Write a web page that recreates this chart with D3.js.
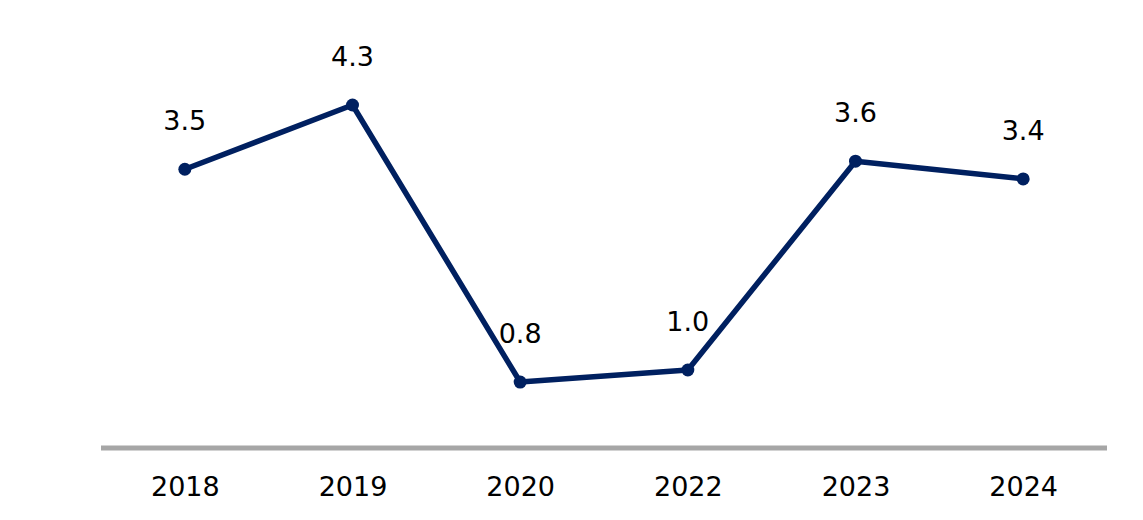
<!DOCTYPE html>
<html>
<head>
<meta charset="utf-8">
<script src="https://cdn.jsdelivr.net/npm/d3@7"></script>
<style>
  html, body { margin: 0; padding: 0; background: #fff; }
  svg { display: block; }
  text { font-family: "DejaVu Sans", Verdana, sans-serif; fill: #000; }
</style>
</head>
<body>
<svg id="chart" width="1143" height="520"></svg>
<script>
const categories = ["2018", "2019", "2020", "2022", "2023", "2024"];
const values = [3.5, 4.3, 0.85, 1.0, 3.6, 3.38];
const valueLabels = ["3.5", "4.3", "0.8", "1.0", "3.6", "3.4"];

const svg = d3.select("#chart");
const x = d3.scalePoint().domain(categories).range([101, 1107]).padding(0.5);
const y = d3.scaleLinear().domain([0, 5]).range([450.3, 48.8]);

const data = categories.map((c, i) => ({ c, v: values[i], label: valueLabels[i] }));

// x axis baseline
const xAxis = d3.axisBottom(x).tickSize(0).tickPadding(0);
const ax = svg.append("g").attr("transform", "translate(0,448)").call(xAxis);
ax.select(".domain").attr("stroke", "#a6a6a6").attr("stroke-width", 5)
  .attr("d", "M101,0H1107");
ax.selectAll(".tick text")
  .attr("y", 48).attr("dy", null)
  .style("font-family", '"DejaVu Sans", Verdana, sans-serif')
  .style("font-size", "27px").attr("fill", "#000");

// line
const line = d3.line().x(d => x(d.c)).y(d => y(d.v));
svg.append("path").datum(data)
  .attr("fill", "none").attr("stroke", "#002060")
  .attr("stroke-width", 5.5).attr("stroke-linejoin", "round")
  .attr("d", line);

// points
svg.selectAll("circle.pt").data(data).enter().append("circle")
  .attr("class", "pt")
  .attr("cx", d => x(d.c)).attr("cy", d => y(d.v)).attr("r", 6.5)
  .attr("fill", "#002060");

// value labels
svg.selectAll("text.lbl").data(data).enter().append("text")
  .attr("class", "lbl")
  .attr("x", d => x(d.c)).attr("y", d => y(d.v) - 39)
  .attr("text-anchor", "middle")
  .style("font-size", "27px")
  .text(d => d.label);
</script>
</body>
</html>
